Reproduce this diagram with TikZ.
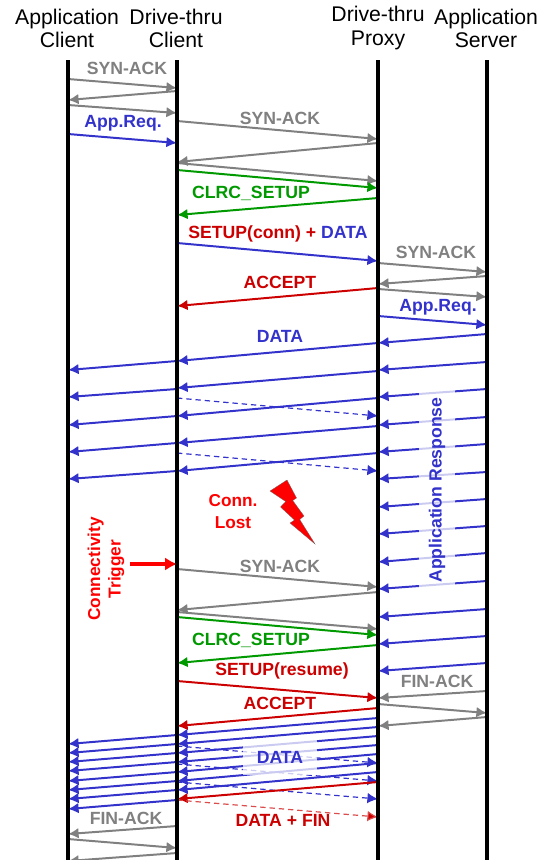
\documentclass[tikz,border=0pt]{standalone}
\usepackage{fontspec}
\setmainfont{Liberation Sans}
\usetikzlibrary{arrows.meta}
\definecolor{syngray}{HTML}{808080}
\definecolor{datablue}{HTML}{3333CC}
\definecolor{clrcgreen}{HTML}{009900}
\definecolor{ctrlred}{HTML}{CC0000}
\begin{document}
\begin{tikzpicture}[x=0.0265cm, y=-0.0265cm,
  lifeline/.style={draw=black, line width=2.6pt},
  head/.style={align=center, inner sep=0pt, font=\fontsize{16}{17.4}\selectfont},
  lbl/.style={inner sep=0pt, font=\bfseries\fontsize{13.3}{15}\selectfont},
  synarr/.style={draw=syngray, line width=1.5pt, -{Latex[length=8pt,width=8pt]}},
  dataarr/.style={draw=datablue, line width=1.5pt, -{Latex[length=8pt,width=8pt]}},
  lostarr/.style={draw=datablue, line width=0.9pt, dash pattern=on 4pt off 3pt, -{Latex[length=8pt,width=8pt]}},
  clrcarr/.style={draw=clrcgreen, line width=1.5pt, -{Latex[length=8pt,width=8pt]}},
  ctrlarr/.style={draw=ctrlred, line width=1.5pt, -{Latex[length=8pt,width=8pt]}},
  finarr/.style={draw=ctrlred!70, line width=0.9pt, dash pattern=on 4pt off 3pt, -{Latex[length=8pt,width=8pt,fill=ctrlred]}},
  fade/.style={fill=white, fill opacity=.75, text opacity=1}]
\useasboundingbox (0,0) rectangle (545,860);
\node[head] (appclient) at (67,28.5) {Application\\Client};
\node[head] (drvclient) at (176,28.5) {Drive-thru\\Client};
\node[head] (drvproxy) at (378,28) {Drive-thru\\Proxy};
\node[head] (appserver) at (486,28.5) {Application\\Server};
\coordinate (ac) at (68,60);
\coordinate (dc) at (177,60);
\coordinate (dp) at (378,60);
\coordinate (as) at (487,60);
\draw[synarr] (ac |- 0,79) -- (dc |- 0,88);
\draw[synarr] (dc |- 0,91) -- (ac |- 0,100);
\draw[synarr] (ac |- 0,105) -- (dc |- 0,113);
\draw[dataarr] (ac |- 0,134) -- (dc |- 0,143);
\draw[synarr] (dc |- 0,121) -- (dp |- 0,139);
\draw[synarr] (dp |- 0,143) -- (dc |- 0,162);
\draw[synarr] (dc |- 0,163) -- (dp |- 0,181);
\draw[clrcarr] (dc |- 0,170) -- (dp |- 0,188);
\draw[clrcarr] (dp |- 0,198) -- (dc |- 0,215);
\draw[dataarr] (dc |- 0,243) -- (dp |- 0,261);
\draw[synarr] (dp |- 0,263) -- (as |- 0,272);
\draw[synarr] (as |- 0,276) -- (dp |- 0,284);
\draw[ctrlarr] (dp |- 0,288) -- (dc |- 0,306);
\draw[synarr] (dp |- 0,289) -- (as |- 0,297);
\draw[dataarr] (dp |- 0,316) -- (as |- 0,325);
\draw[lostarr] (dc |- 0,398) -- (dp |- 0,416);
\draw[lostarr] (dc |- 0,453) -- (dp |- 0,471);
\draw[dataarr] (dp |- 0,343) -- (dc |- 0,361);
\draw[dataarr] (dp |- 0,371) -- (dc |- 0,388);
\draw[dataarr] (dp |- 0,398) -- (dc |- 0,416);
\draw[dataarr] (dp |- 0,426) -- (dc |- 0,443);
\draw[dataarr] (dp |- 0,453) -- (dc |- 0,471);
\draw[dataarr] (dc |- 0,361) -- (ac |- 0,370);
\draw[dataarr] (dc |- 0,389) -- (ac |- 0,397);
\draw[dataarr] (dc |- 0,416) -- (ac |- 0,425);
\draw[dataarr] (dc |- 0,443) -- (ac |- 0,452);
\draw[dataarr] (dc |- 0,471) -- (ac |- 0,479);
\draw[dataarr] (as |- 0,334) -- (dp |- 0,343);
\draw[dataarr] (as |- 0,362) -- (dp |- 0,370);
\draw[dataarr] (as |- 0,389) -- (dp |- 0,397);
\draw[dataarr] (as |- 0,417) -- (dp |- 0,425);
\draw[dataarr] (as |- 0,444) -- (dp |- 0,452);
\draw[dataarr] (as |- 0,472) -- (dp |- 0,479);
\draw[dataarr] (as |- 0,499) -- (dp |- 0,507);
\draw[dataarr] (as |- 0,526) -- (dp |- 0,534);
\draw[dataarr] (as |- 0,553) -- (dp |- 0,562);
\draw[dataarr] (as |- 0,581) -- (dp |- 0,589);
\draw[dataarr] (as |- 0,609) -- (dp |- 0,617);
\draw[dataarr] (as |- 0,636) -- (dp |- 0,644);
\draw[dataarr] (as |- 0,663) -- (dp |- 0,671);
\draw[synarr] (dc |- 0,569) -- (dp |- 0,587);
\draw[synarr] (dp |- 0,592) -- (dc |- 0,610);
\draw[synarr] (dc |- 0,612) -- (dp |- 0,629);
\draw[clrcarr] (dc |- 0,617) -- (dp |- 0,635);
\draw[clrcarr] (dp |- 0,645) -- (dc |- 0,663);
\draw[ctrlarr] (dc |- 0,681) -- (dp |- 0,698);
\draw[ctrlarr] (dp |- 0,708) -- (dc |- 0,726);
\draw[synarr] (as |- 0,691) -- (dp |- 0,698);
\draw[synarr] (dp |- 0,704) -- (as |- 0,713);
\draw[synarr] (as |- 0,717) -- (dp |- 0,726);
\draw[lostarr] (dc |- 0,746) -- (dp |- 0,763);
\draw[lostarr] (dc |- 0,764) -- (dp |- 0,781);
\draw[lostarr] (dc |- 0,782) -- (dp |- 0,799);
\draw[dataarr] (dp |- 0,718) -- (dc |- 0,735);
\draw[dataarr] (dp |- 0,727) -- (dc |- 0,744);
\draw[dataarr] (dp |- 0,736) -- (dc |- 0,753);
\draw[dataarr] (dp |- 0,745) -- (dc |- 0,762);
\draw[dataarr] (dp |- 0,754) -- (dc |- 0,772);
\draw[dataarr] (dp |- 0,763) -- (dc |- 0,781);
\draw[dataarr] (dp |- 0,772) -- (dc |- 0,790);
\draw[ctrlarr] (dp |- 0,782) -- (dc |- 0,799);
\draw[dataarr] (dc |- 0,735) -- (ac |- 0,744);
\draw[dataarr] (dc |- 0,744) -- (ac |- 0,753);
\draw[dataarr] (dc |- 0,753) -- (ac |- 0,762);
\draw[dataarr] (dc |- 0,762) -- (ac |- 0,771);
\draw[dataarr] (dc |- 0,772) -- (ac |- 0,781);
\draw[dataarr] (dc |- 0,781) -- (ac |- 0,790);
\draw[dataarr] (dc |- 0,790) -- (ac |- 0,799);
\draw[dataarr] (dc |- 0,800) -- (ac |- 0,809);
\draw[finarr] (dc |- 0,800) -- (dp |- 0,817);
\draw[synarr] (dc |- 0,826) -- (ac |- 0,834);
\draw[synarr] (ac |- 0,839) -- (dc |- 0,848);
\draw[synarr] (dc |- 0,853) -- (ac |- 0,861);
\coordinate (trigstart) at (130,564);
\draw[draw=red, line width=3pt, -{Latex[length=9pt,width=10pt]}] (trigstart) -- (dc |- trigstart);
\draw[lifeline] (ac) -- (ac |- 0,860);
\draw[lifeline] (dc) -- (dc |- 0,860);
\draw[lifeline] (dp) -- (dp |- 0,860);
\draw[lifeline] (as) -- (as |- 0,860);
\node[lbl, text=syngray] (syn1) at (127,68) {SYN-ACK};
\node[lbl, text=syngray] (syn2) at (280,118) {SYN-ACK};
\node[lbl, text=datablue] (req1) at (123,123) {App.Req.};
\node[lbl, text=clrcgreen] (clrc1) at (251,193) {CLRC\_SETUP};
\node[lbl, text=ctrlred] (setup1) at (278,234) {SETUP(conn) + \textcolor{datablue}{DATA}};
\node[lbl, text=syngray] (syn3) at (436,252) {SYN-ACK};
\node[lbl, text=ctrlred] (accept1) at (280,282) {ACCEPT};
\node[lbl, text=datablue] (req2) at (438,307) {App.Req.};
\node[lbl, text=datablue] (data1) at (280,336) {DATA};
\node[lbl, fade, text=datablue, rotate=90, minimum width=5.4cm, minimum height=.93cm] (resp) at (437,490) {Application Response};
\node[lbl, text=red, align=center, font=\bfseries\fontsize{13}{16}\selectfont] (lost) at (233,511.5) {Conn.\\Lost};
\fill[red, draw=black!60, line width=.2pt] (287,480) -- (296.5,498) -- (292.7,500.5) -- (304,516) -- (299.7,519.5) -- (315,544) -- (290,523) -- (294.5,520) -- (280.5,507) -- (285.7,501.5) -- (270,491) -- cycle;
\node[lbl, text=red, rotate=90, align=center, font=\bfseries\fontsize{13}{15.5}\selectfont] (trigger) at (106,569) {Connectivity\\Trigger};
\node[lbl, text=syngray] (syn4) at (280,566) {SYN-ACK};
\node[lbl, text=clrcgreen] (clrc2) at (251,640) {CLRC\_SETUP};
\node[lbl, text=ctrlred] (setup2) at (282,671) {SETUP(resume)};
\node[lbl, text=syngray] (fin1) at (437,681) {FIN-ACK};
\node[lbl, text=ctrlred] (accept2) at (280,703) {ACCEPT};
\node[lbl, fade, text=datablue, minimum width=1.96cm, minimum height=.93cm] (data2) at (280,757) {DATA};
\node[lbl, text=ctrlred] (datafin) at (283,820) {DATA + FIN};
\node[lbl, text=syngray] (fin2) at (126,818) {FIN-ACK};
\end{tikzpicture}
\end{document}
